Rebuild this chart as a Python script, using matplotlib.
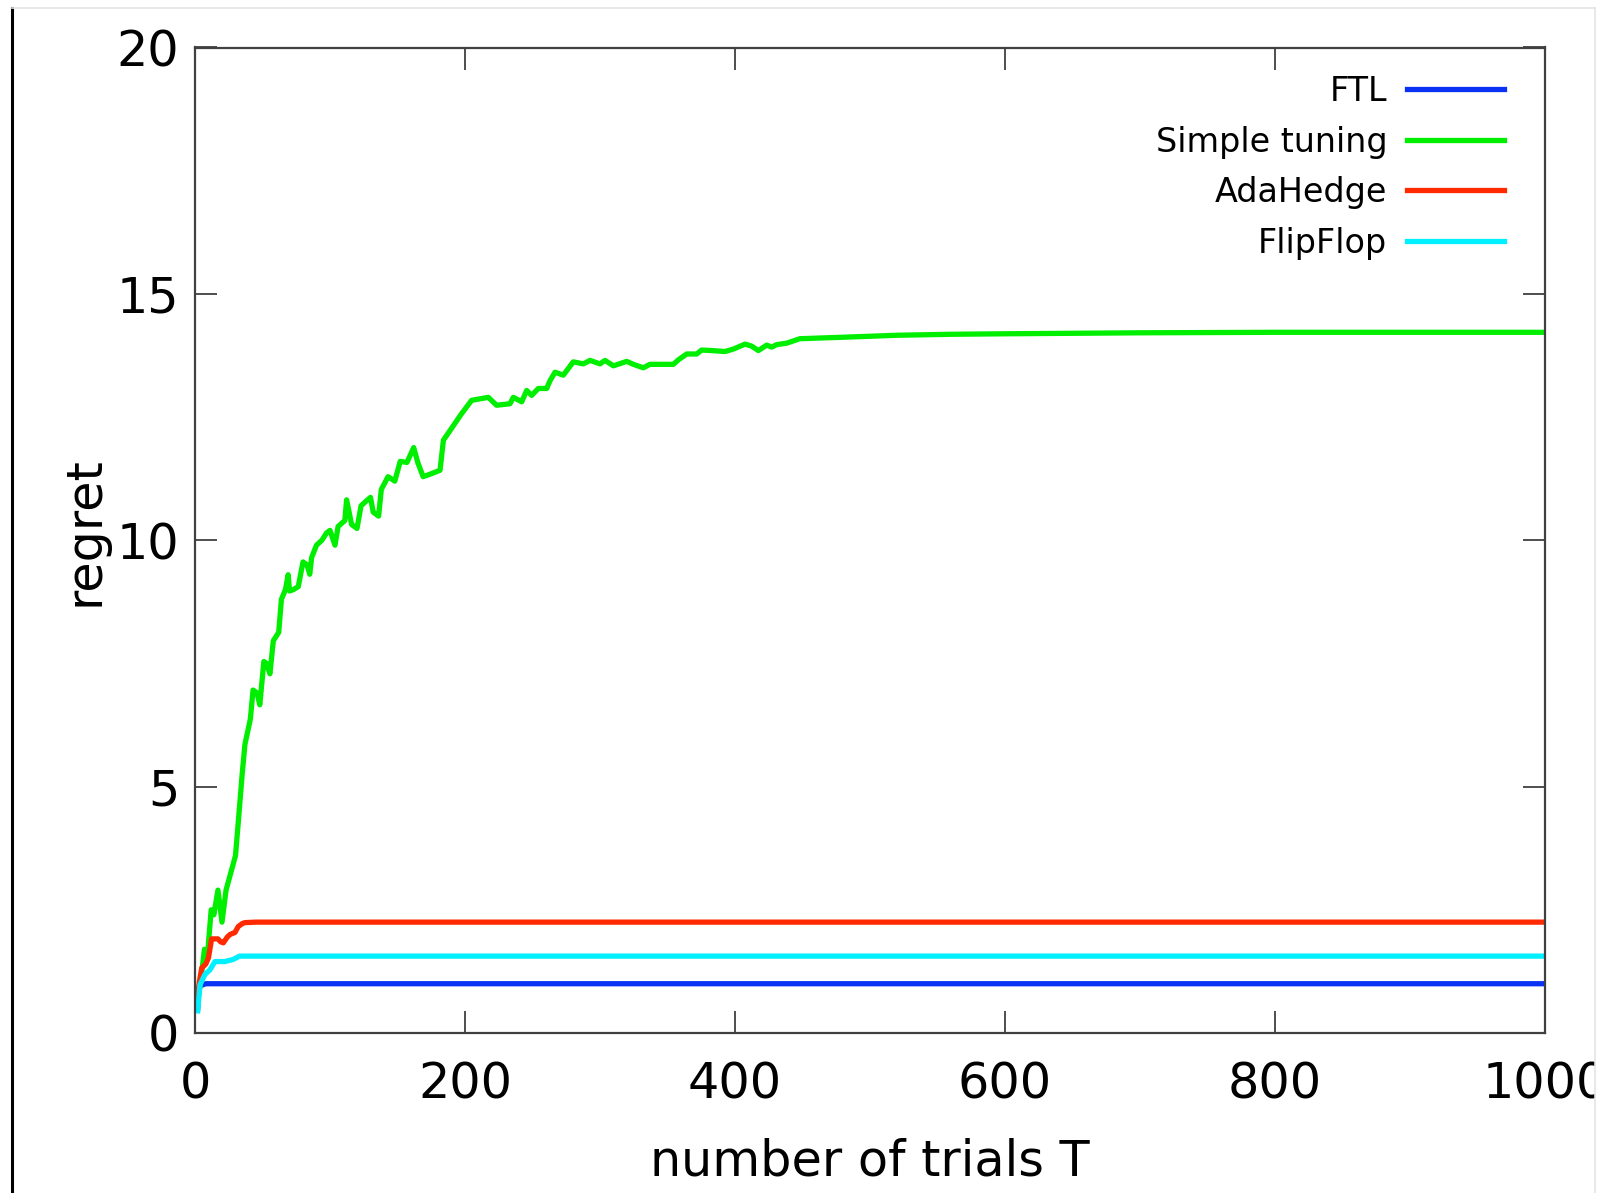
import matplotlib
matplotlib.use("Agg")
import matplotlib.pyplot as plt
from matplotlib.lines import Line2D
from matplotlib.patches import Rectangle

plt.rcParams['font.family'] = ['DejaVu Sans']

# ---- data ----
ftl_x = [2, 3, 8, 1000]
ftl_y = [0.5, 0.95, 1.0, 1.0]

simple_x = [1, 4, 7, 9, 12, 14, 17, 20, 23, 25,
            28, 30, 32, 35, 37, 41, 43, 46, 48, 51,
            53, 55.5, 58, 62, 64, 67, 69, 70, 73, 76.5,
            80, 83, 85, 86.4, 90, 94, 97.5, 100, 103.7, 106,
            111, 112.3, 116, 120, 123, 127, 130, 132, 136, 138,
            143, 148, 152, 157, 162, 165, 169, 175, 181.5, 184,
            189, 197.5, 204.9, 217.3, 223.4, 233.3, 235.8, 242, 245.7, 249.4,
            254.3, 260.5, 263, 266.7, 272.8, 280.2, 287.7, 292.6, 300, 303.7,
            309.9, 319.8, 324.7, 332.1, 337, 354.3, 358, 364.2, 371.6, 375.3,
            382.7, 392.6, 398.8, 407.4, 412.3, 417.3, 423.5, 427.2, 430.9, 438.3,
            448.1, 480, 520, 560, 600, 700, 800, 1000]
simple_y = [0.5, 1.0, 1.7, 1.5, 2.5, 2.4, 2.9, 2.25, 2.9, 3.1,
            3.4, 3.6, 4.26, 5.27, 5.86, 6.37, 6.96, 6.9, 6.66, 7.54,
            7.5, 7.29, 7.96, 8.13, 8.8, 9.0, 9.3, 8.97, 9.0, 9.06,
            9.56, 9.5, 9.31, 9.65, 9.9, 10.0, 10.15, 10.2, 9.9, 10.28,
            10.4, 10.82, 10.32, 10.24, 10.7, 10.8, 10.87, 10.57, 10.49, 11.03,
            11.29, 11.2, 11.6, 11.58, 11.88, 11.58, 11.29, 11.35, 11.42, 12.03,
            12.23, 12.57, 12.84, 12.9, 12.74, 12.77, 12.9, 12.81, 13.04, 12.94,
            13.08, 13.08, 13.24, 13.41, 13.35, 13.62, 13.58, 13.65, 13.58, 13.65,
            13.54, 13.63, 13.57, 13.5, 13.57, 13.57, 13.66, 13.78, 13.78, 13.86,
            13.85, 13.83, 13.88, 13.98, 13.94, 13.85, 13.96, 13.92, 13.97, 14.0,
            14.09, 14.12, 14.16, 14.18, 14.19, 14.21, 14.22, 14.22]

ada_x = [1, 3, 5, 8, 10, 12.3, 17, 19, 21, 24, 26, 29.6, 32, 35, 37, 45, 1000]
ada_y = [0.5, 1.0, 1.32, 1.4, 1.53, 1.91, 1.91, 1.85, 1.83, 1.95, 2.0, 2.04,
         2.16, 2.22, 2.24, 2.25, 2.25]

flip_x = [2, 3.7, 7.4, 11, 14.8, 22, 28, 33, 1000]
flip_y = [0.45, 0.98, 1.19, 1.28, 1.45, 1.45, 1.49, 1.56, 1.56]

series_labels = ["FTL", "Simple tuning", "AdaHedge", "FlipFlop"]
series_colors = ["#0a32f5", "#00ee00", "#ff2a00", "#00f0ff"]

x_ticks = [0, 200, 400, 600, 800, 1000]
y_ticks = [0, 5, 10, 15, 20]

# ---- figure ----
W, H = 1610, 1193
fig = plt.figure(figsize=(W / 100, H / 100), dpi=100)
ax = fig.add_axes([195 / W, 1 - 1033 / H, 1350 / W, 985.5 / H])

series = [(ftl_x, ftl_y), (simple_x, simple_y), (ada_x, ada_y), (flip_x, flip_y)]
for (xs, ys), lab, col in zip(series, series_labels, series_colors):
    ax.plot(xs, ys, color=col, lw=3.8, label=lab, solid_joinstyle='round')

ax.set_xlim(0, 1000)
ax.set_ylim(0, 20)
ax.set_xticks(x_ticks)
ax.set_yticks(y_ticks)

spine_col = "#404040"
for s in ax.spines.values():
    s.set_color(spine_col)
    s.set_linewidth(1.6)
ax.tick_params(direction='in', top=True, right=True, length=16, width=1.3,
               color=spine_col, labelsize=35.5)
ax.tick_params(axis='x', pad=20)
ax.tick_params(axis='y', pad=11.5)

ax.set_xlabel("number of trials T", fontsize=35.5)
ax.xaxis.set_label_coords(0.5, -0.106)
ax.set_ylabel("regret", fontsize=35.5, va='center')
ax.yaxis.set_label_coords(-0.0815, 0.509)

leg = ax.legend(loc='upper right', bbox_to_anchor=(0.9696, 0.972),
                frameon=False, fontsize=24, markerfirst=False,
                handlelength=2.9, handletextpad=0.6, labelspacing=0.525,
                borderpad=0, borderaxespad=0)

# ---- screenshot frame ----
fig.add_artist(Rectangle((1595 / W, 0), 1 - 1595 / W, 1, transform=fig.transFigure,
                         facecolor='white', edgecolor='none', zorder=10))
fig.add_artist(Line2D([12 / W, 12 / W], [0, 1 - 8 / H], transform=fig.transFigure,
                      color='black', lw=2.2, zorder=11))
fig.add_artist(Line2D([12 / W, 1595 / W], [1 - 8 / H, 1 - 8 / H], transform=fig.transFigure,
                      color='#e4e4e4', lw=1.2, zorder=11))
fig.add_artist(Line2D([1595 / W, 1595 / W], [0, 1 - 8 / H], transform=fig.transFigure,
                      color='#e4e4e4', lw=1.2, zorder=11))

fig.savefig("out.png", dpi=100, facecolor='white')
